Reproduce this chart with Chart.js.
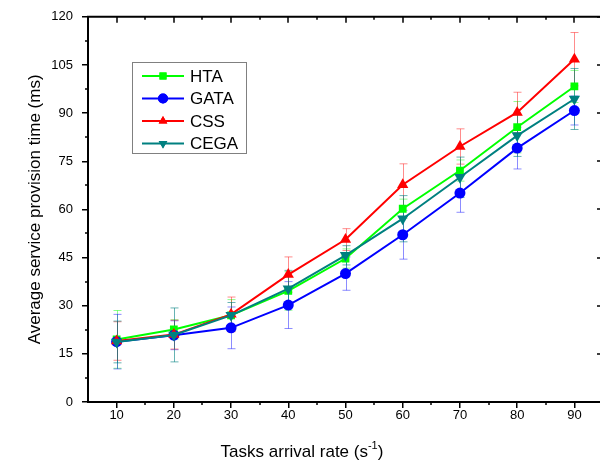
<!DOCTYPE html>
<html>
<head>
<meta charset="utf-8">
<script src="https://cdn.jsdelivr.net/npm/chart.js@4.4.0/dist/chart.umd.min.js"></script>
<style>
html,body{margin:0;padding:0;background:#fff;overflow:hidden;}
#wrap{width:610px;height:463px;}
</style>
</head>
<body>
<div id="wrap"><canvas id="c" width="610" height="463"></canvas></div>
<script>
const rates = [10, 20, 30, 40, 50, 60, 70, 80, 90];
const yTicks = [0, 15, 30, 45, 60, 75, 90, 105, 120];
const HTA  = [19.5, 22.6, 27.0, 34.6, 44.7, 60.2, 72.1, 85.6, 98.3];
const GATA = [18.8, 20.8, 23.1, 30.2, 40.0, 52.1, 65.1, 79.1, 90.8];
const CSS  = [19.0, 21.0, 27.3, 39.7, 50.6, 67.7, 79.6, 90.2, 106.8];
const CEGA = [18.7, 20.9, 27.0, 35.3, 45.7, 57.1, 70.0, 83.0, 94.4];
const HTA_err  = [9.0, 3.0, 4.9, 6.0, 3.0, 3.0, 3.3, 8.0, 5.0];
const GATA_err = [8.5, 4.5, 6.5, 7.3, 5.2, 7.6, 6.0, 6.5, 4.5];
const CSS_err  = [6.0, 4.5, 5.4, 5.5, 3.4, 6.5, 5.5, 6.3, 8.3];
const CEGA_err = [6.5, 8.4, 4.0, 5.7, 3.0, 7.2, 6.3, 6.5, 9.5];

const FONT = '"Liberation Sans", Arial, sans-serif';

function pts(arr){ return rates.map((x,i)=>({x:x, y:arr[i]})); }

const datasets = [
  {label:'HTA', data:pts(HTA), err:HTA_err, borderColor:'#00ff00', backgroundColor:'#00ff00', pointStyle:'rect', pointRadius:5.5, order:3, ecol:'rgba(0,255,0,0.45)'},
  {label:'GATA', data:pts(GATA), err:GATA_err, borderColor:'#0000ff', backgroundColor:'#0000ff', pointStyle:'circle', pointRadius:5.5, order:2, ecol:'rgba(0,0,255,0.45)'},
  {label:'CSS', data:pts(CSS), err:CSS_err, borderColor:'#ff0000', backgroundColor:'#ff0000', pointStyle:'triangle', pointRadius:6.5, order:1, ecol:'rgba(255,0,0,0.45)'},
  {label:'CEGA', data:pts(CEGA), err:CEGA_err, borderColor:'#008080', backgroundColor:'#008080', pointStyle:'triangle', pointRotation:180, pointRadius:6.5, order:0, ecol:'rgba(0,128,128,0.6)'}
].map(d=>Object.assign({borderWidth:2, pointBorderWidth:0, tension:0, fill:false}, d));

const decor = {
  id:'decor',
  beforeDatasetsDraw(chart){
    const ctx = chart.ctx, xs = chart.scales.x, ys = chart.scales.y;
    ctx.save();
    ctx.lineWidth = 1;
    chart.data.datasets.forEach(ds=>{
      ctx.strokeStyle = ds.ecol;
      ds.data.forEach((p,i)=>{
        const px = Math.round(xs.getPixelForValue(p.x)) + 0.5;
        const top = ys.getPixelForValue(p.y + ds.err[i]);
        const bot = ys.getPixelForValue(p.y - ds.err[i]);
        ctx.beginPath();
        ctx.moveTo(px, top); ctx.lineTo(px, bot);
        ctx.moveTo(px-4, top); ctx.lineTo(px+4, top);
        ctx.moveTo(px-4, bot); ctx.lineTo(px+4, bot);
        ctx.stroke();
      });
    });
    ctx.restore();
  },
  afterDraw(chart){
    const ctx = chart.ctx, xs = chart.scales.x, ys = chart.scales.y, a = chart.chartArea;
    ctx.save();
    ctx.strokeStyle = '#000';
    ctx.lineWidth = 2;
    ctx.beginPath();
    ctx.moveTo(a.left-1, a.top); ctx.lineTo(a.right+1, a.top);
    ctx.moveTo(a.right, a.top); ctx.lineTo(a.right, a.bottom);
    ctx.stroke();
    ctx.lineWidth = 1.5;
    ctx.beginPath();
    rates.forEach(v=>{
      const px = Math.round(xs.getPixelForValue(v));
      ctx.moveTo(px, a.top); ctx.lineTo(px, a.top+6);
      const m = Math.round(xs.getPixelForValue(v+5));
      ctx.moveTo(m, a.top); ctx.lineTo(m, a.top+3);
      ctx.moveTo(m, a.bottom); ctx.lineTo(m, a.bottom+3);
    });
    yTicks.forEach(v=>{
      const py = Math.round(ys.getPixelForValue(v));
      ctx.moveTo(a.right, py); ctx.lineTo(a.right-6, py);
      if (v < 120) {
        const m = Math.round(ys.getPixelForValue(v+7.5));
        ctx.moveTo(a.left, m); ctx.lineTo(a.left-3, m);
        ctx.moveTo(a.right, m); ctx.lineTo(a.right-3, m);
      }
    });
    ctx.stroke();

    // x-axis title with superscript
    ctx.fillStyle = '#000';
    ctx.textBaseline = 'alphabetic';
    const t1 = 'Tasks arrival rate (s', t2 = '-1', t3 = ')';
    ctx.font = '11px ' + FONT;
    const w2 = ctx.measureText(t2).width;
    ctx.font = '17px ' + FONT;
    const w1 = ctx.measureText(t1).width, w3 = ctx.measureText(t3).width;
    const total = w1 + w2 + w3;
    const x0 = 302 - total/2;
    const base = 457;
    ctx.textAlign = 'left';
    ctx.fillText(t1, x0, base);
    ctx.font = '11px ' + FONT;
    ctx.fillText(t2, x0 + w1, base - 8);
    ctx.font = '17px ' + FONT;
    ctx.fillText(t3, x0 + w1 + w2, base);

    // legend
    ctx.lineWidth = 1;
    ctx.strokeStyle = '#808080';
    ctx.strokeRect(132.5, 62.5, 114, 91);
    chart.data.datasets.forEach((ds,i)=>{
      const y = 76 + i*22.5;
      ctx.strokeStyle = ds.borderColor;
      ctx.lineWidth = 2;
      ctx.beginPath(); ctx.moveTo(142, y); ctx.lineTo(184, y); ctx.stroke();
      ctx.fillStyle = ds.backgroundColor;
      Chart.helpers.drawPoint(ctx, {pointStyle: ds.pointStyle, rotation: ds.pointRotation || 0, radius: 5, borderWidth:0}, 163, y);
      ctx.fill();
      ctx.fillStyle = '#000';
      ctx.font = '17px ' + FONT;
      ctx.textBaseline = 'middle';
      ctx.fillText(ds.label, 190, y + 1);
    });
    ctx.restore();
  }
};

new Chart(document.getElementById('c'), {
  type:'line',
  data:{datasets:datasets},
  options:{
    responsive:false,
    animation:false,
    events:[],
    layout:{padding:{top:16, right:7, left:0, bottom:0}},
    plugins:{legend:{display:false}, tooltip:{enabled:false}},
    scales:{
      x:{
        type:'linear', min:5, max:95,
        afterBuildTicks(s){ s.ticks = rates.map(v=>({value:v})); },
        afterFit(s){ s.height = 61; },
        grid:{display:true, drawOnChartArea:false, drawTicks:true, tickLength:6, color:'#000', lineWidth:1.5},
        border:{display:true, color:'#000', width:2},
        ticks:{color:'#000', font:{family:FONT, size:13}, padding:0, maxRotation:0, autoSkip:false}
      },
      y:{
        min:0, max:120,
        afterBuildTicks(s){ s.ticks = yTicks.map(v=>({value:v})); },
        afterFit(s){ s.width = 88; },
        grid:{display:true, drawOnChartArea:false, drawTicks:true, tickLength:6, color:'#000', lineWidth:1.5},
        border:{display:true, color:'#000', width:2},
        ticks:{color:'#000', font:{family:FONT, size:13}, padding:9},
        title:{display:true, text:'Average service provision time (ms)', color:'#000', font:{family:FONT, size:17}, padding:{top:25, bottom:0}}
      }
    }
  },
  plugins:[decor]
});
</script>
</body>
</html>
